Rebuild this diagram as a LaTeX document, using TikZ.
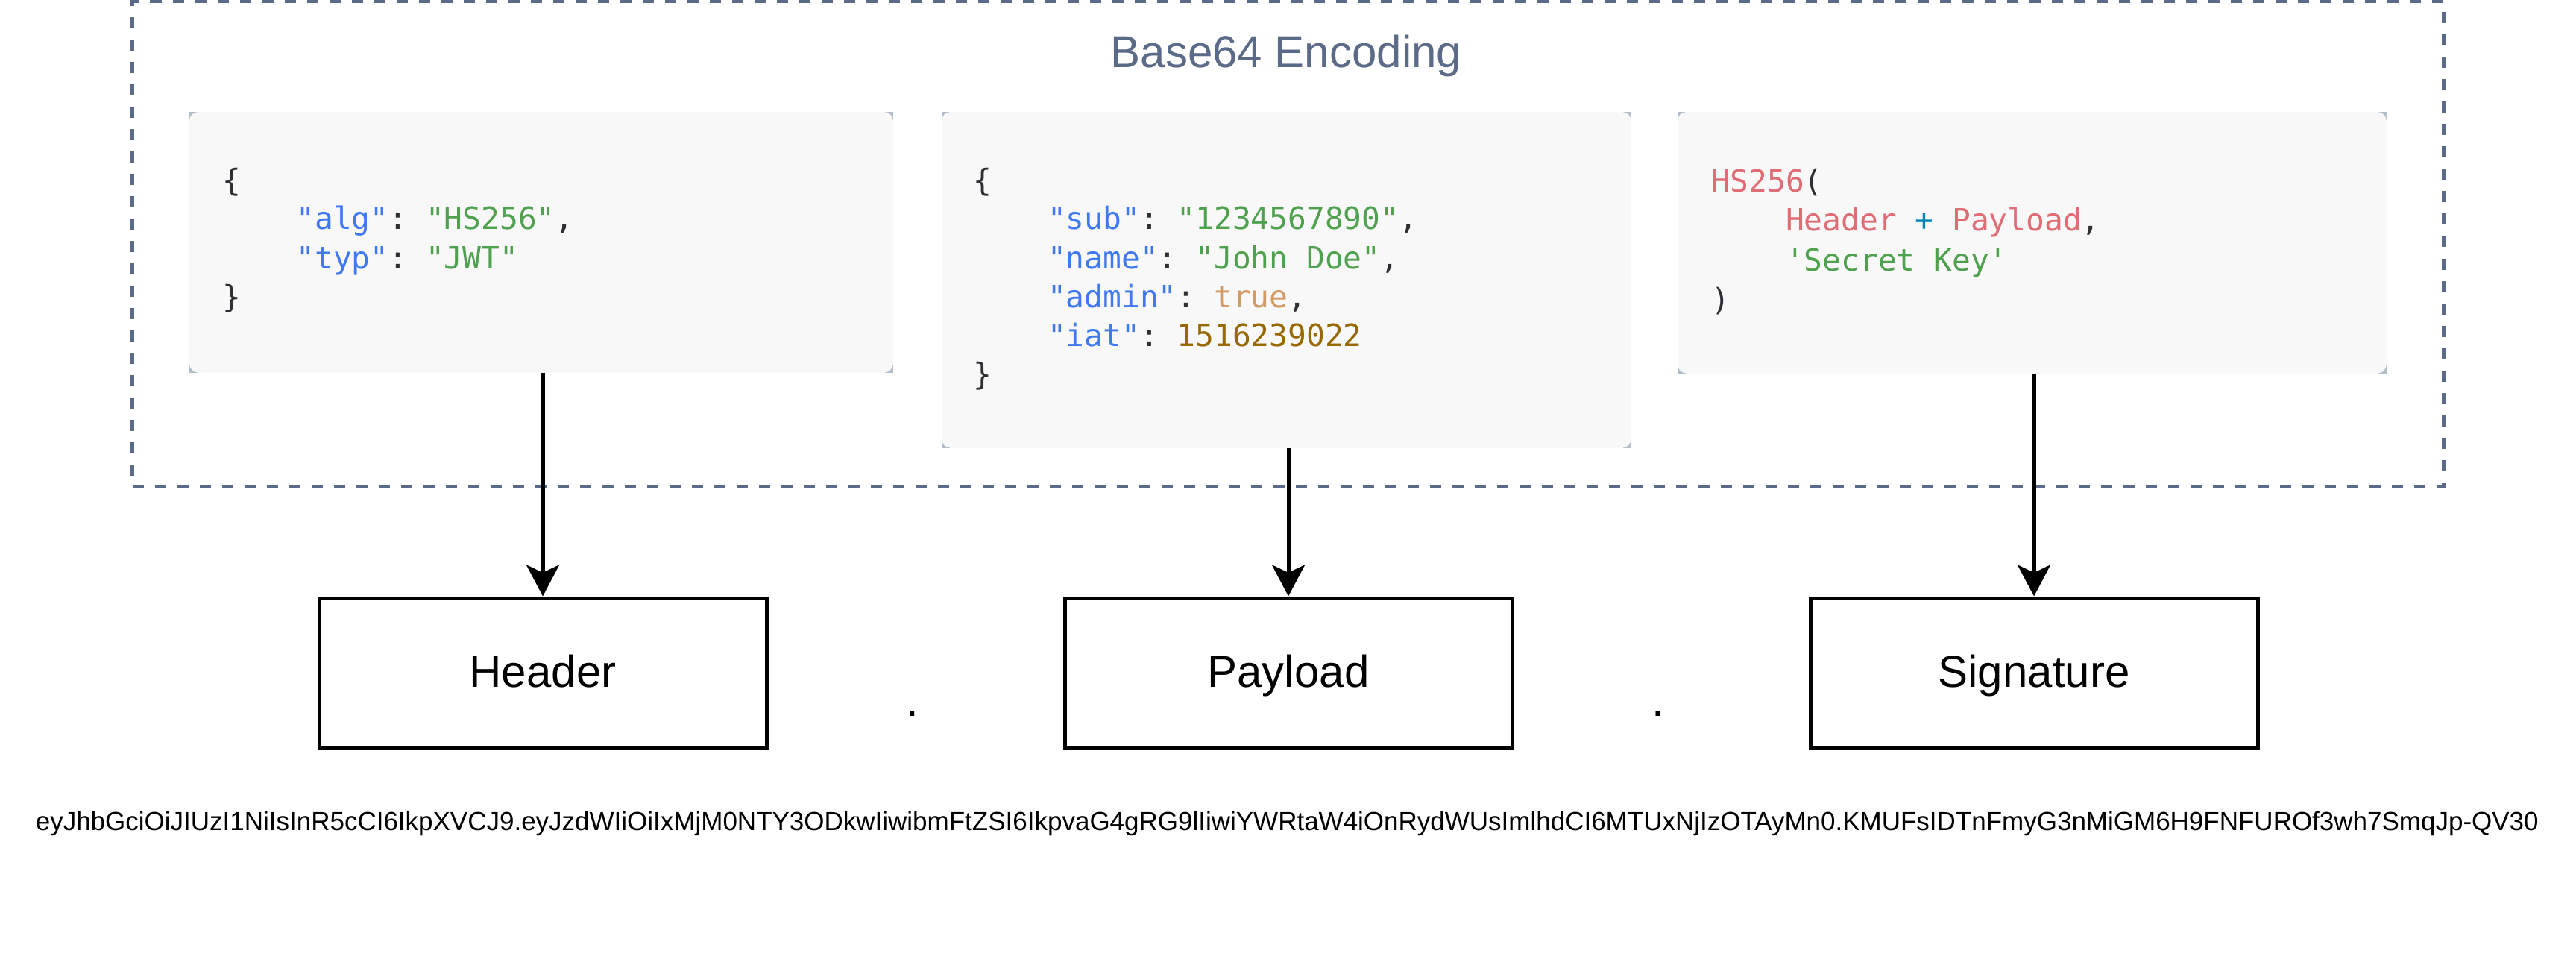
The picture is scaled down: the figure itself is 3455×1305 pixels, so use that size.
\documentclass[tikz,border=0pt]{standalone}
\usepackage{fontspec}
\setmainfont{Liberation Sans}
\setmonofont{DejaVu Sans Mono}
\usetikzlibrary{arrows.meta}
\newdimen\pxu \pxu=0.25pt
\definecolor{slate}{HTML}{5B6B87}
\definecolor{codebg}{HTML}{F8F8F8}
\definecolor{cornergray}{HTML}{B3BECB}
\definecolor{keyblue}{HTML}{4078F2}
\definecolor{strgreen}{HTML}{50A14F}
\definecolor{boolorange}{HTML}{D19A66}
\definecolor{numgold}{HTML}{986801}
\definecolor{fnred}{HTML}{E06C75}
\definecolor{opblue}{HTML}{0184BC}
\definecolor{punct}{HTML}{2D2F33}
\newcommand{\ckey}[1]{\textcolor{keyblue}{#1}}
\newcommand{\cstr}[1]{\textcolor{strgreen}{#1}}
\newcommand{\cbool}[1]{\textcolor{boolorange}{#1}}
\newcommand{\cnum}[1]{\textcolor{numgold}{#1}}
\newcommand{\cfn}[1]{\textcolor{fnred}{#1}}
\newcommand{\cop}[1]{\textcolor{opblue}{#1}}
\newcommand{\codefont}{\ttfamily\fontsize{10.3pt}{12pt}\selectfont}
\newcommand{\labelfont}{\fontsize{15pt}{18pt}\selectfont}
\newcommand{\ind}{\phantom{xxxx}}
\tikzset{
  container/.style={draw=slate, line width=1.25pt, dash pattern=on 3.75pt off 3.75pt, inner sep=0pt},
  codebox/.style={inner sep=0pt, anchor=north west},
  codeline/.style={anchor=base west, inner sep=0pt, font=\codefont, text=punct},
  labelbox/.style={draw=black, line width=1.25pt, inner sep=0pt, font=\labelfont,
    minimum width=150pt, minimum height=50pt, text height=11pt, text depth=1.5pt},
  arrowline/.style={draw=black, line width=1.25pt, -{Stealth[length=10.5pt, width=11pt, inset=2.6pt]}},
  plaintext/.style={inner sep=0pt},
}
\begin{document}
\begin{tikzpicture}[x=0.25pt, y=-0.25pt]
\useasboundingbox (0,0) rectangle (3455,1305);
\fill[white] (0,0) rectangle (3455,1305);

% container
\node[container, minimum width=774.875pt, minimum height=162.5pt] (enc) at (1727.25,327) {};
\node[plaintext, anchor=base, text=slate, font=\labelfont] (title) at (1725,91) {Base64 Encoding};

% code boxes (geometry)
\node[codebox, minimum width=235.5pt, minimum height=87pt] (code1) at (254,150) {};
\node[codebox, minimum width=230.75pt, minimum height=112.25pt] (code2) at (1263,150) {};
\node[codebox, minimum width=237.25pt, minimum height=87.25pt] (code3) at (2250,150) {};
\foreach \c in {code1,code2,code3}{
  \fill[cornergray] (\c.north west) rectangle ++(11,11);
  \fill[cornergray] (\c.north east) rectangle ++(-11,11);
  \fill[cornergray] (\c.south west) rectangle ++(11,-11);
  \fill[cornergray] (\c.south east) rectangle ++(-11,-11);
  \fill[codebg, rounded corners=3pt] (\c.north west) rectangle (\c.south east);
}

% header code
\node[codeline] (h0) at (297.5,256) {\{};
\node[codeline] (h1) at (297.5,308) {\ind\ckey{"alg"}: \cstr{"HS256"},};
\node[codeline] (h2) at (297.5,360) {\ind\ckey{"typ"}: \cstr{"JWT"}};
\node[codeline] (h3) at (297.5,412) {\}};

% payload code
\node[codeline] (p0) at (1305,256) {\{};
\node[codeline] (p1) at (1305,308) {\ind\ckey{"sub"}: \cstr{"1234567890"},};
\node[codeline] (p2) at (1305,360) {\ind\ckey{"name"}: \cstr{"John Doe"},};
\node[codeline] (p3) at (1305,412.5) {\ind\ckey{"admin"}: \cbool{true},};
\node[codeline] (p4) at (1305,464) {\ind\ckey{"iat"}: \cnum{1516239022}};
\node[codeline] (p5) at (1305,516) {\}};

% signature code
\node[codeline] (s0) at (2295,257) {\cfn{HS256}(};
\node[codeline] (s1) at (2295,310) {\ind\cfn{Header} \cop{+} \cfn{Payload},};
\node[codeline] (s2) at (2295,363) {\ind\cstr{'Secret Key'}};
\node[codeline] (s3) at (2295,416) {)};

% label boxes
\node[labelbox] (header) at (728,902) {Header};
\node[labelbox] (payload) at (1728,902) {Payload};
\node[labelbox] (signature) at (2728,902) {Signature};

\node[plaintext, anchor=base, font=\labelfont] (dot1) at (1224,960) {.};
\node[plaintext, anchor=base, font=\labelfont] (dot2) at (2224,960) {.};

% arrows
\draw[arrowline] (code1.south -| header.north) -- (header.north);
\draw[arrowline] (code2.south -| payload.north) -- (payload.north);
\draw[arrowline] (code3.south -| signature.north) -- (signature.north);

% token
\node[plaintext, anchor=base west] (jwt) at (47,1113) {\resizebox{839.25pt}{!}{\fontsize{7.5pt}{9pt}\selectfont eyJhbGciOiJIUzI1NiIsInR5cCI6IkpXVCJ9.eyJzdWIiOiIxMjM0NTY3ODkwIiwibmFtZSI6IkpvaG4gRG9lIiwiYWRtaW4iOnRydWUsImlhdCI6MTUxNjIzOTAyMn0.KMUFsIDTnFmyG3nMiGM6H9FNFUROf3wh7SmqJp-QV30}};
\end{tikzpicture}
\end{document}
